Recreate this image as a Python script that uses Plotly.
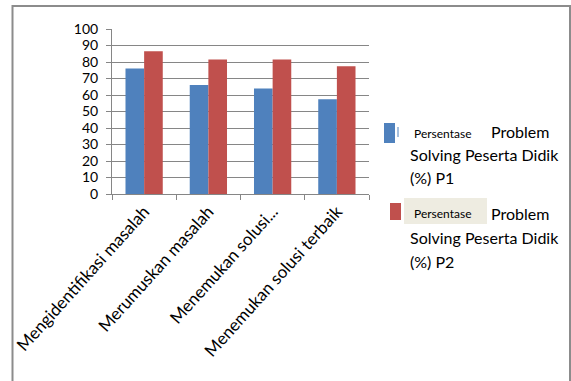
import plotly.graph_objects as go

# Indikator pemecahan masalah dan persentase per pertemuan
categories = [
    "Mengidentifikasi masalah",
    "Merumuskan masalah",
    "Menemukan solusi...",
    "Menemukan solusi terbaik",
]
p1_values = [76, 66, 64, 57.5]
p2_values = [86.5, 81.5, 81.5, 77.5]
y_ticks = list(range(0, 101, 10))

BLUE = "#4f81bd"
RED = "#c0504d"
FONT = "Lato"

W, H = 571, 381
L, R, T, B = 112, 369, 29, 194  # plot area in pixels


def px(x):
    return (x - L) / (R - L)


def py(y):
    return (B - y) / (B - T)


fig = go.Figure()
fig.add_trace(go.Bar(x=categories, y=p1_values, marker=dict(color=BLUE, line=dict(width=0)),
                     name="P1", showlegend=False))
fig.add_trace(go.Bar(x=categories, y=p2_values, marker=dict(color=RED, line=dict(width=0)),
                     name="P2", showlegend=False))

fig.update_layout(
    width=W, height=H,
    margin=dict(l=L, r=W - R, t=T, b=H - B),
    plot_bgcolor="white", paper_bgcolor="white",
    barmode="group", bargap=0.42, bargroupgap=0,
    font=dict(family=FONT, color="#000000"),
)
fig.update_yaxes(
    range=[0, 100], tickvals=y_ticks, ticktext=[str(v) for v in y_ticks],
    showgrid=True, gridcolor="#868686", gridwidth=1,
    showline=True, linecolor="#868686", linewidth=1,
    ticks="outside", ticklen=5, tickcolor="#868686",
    tickfont=dict(size=14, family=FONT, color="#000000"),
    ticklabelstandoff=5, zeroline=False,
)
fig.update_xaxes(
    showline=True, linecolor="#868686", linewidth=1,
    ticks="outside", ticklen=5, tickcolor="#868686", tickson="boundaries",
    tickangle=-48, tickfont=dict(size=17, family=FONT, color="#000000"),
)

shapes = [
    # chart frame
    dict(type="rect", xref="paper", yref="paper", x0=px(12.5), x1=px(570), y0=py(6), y1=py(395),
         line=dict(color="#8c8c8c", width=2), fillcolor="rgba(0,0,0,0)", layer="below"),
    # legend keys
    dict(type="rect", xref="paper", yref="paper", x0=px(384), x1=px(395), y0=py(143), y1=py(123),
         line=dict(width=0), fillcolor=BLUE),
    dict(type="line", xref="paper", yref="paper", x0=px(398), x1=px(398), y0=py(137), y1=py(127),
         line=dict(color=BLUE, width=1)),
    dict(type="rect", xref="paper", yref="paper", x0=px(390), x1=px(401), y0=py(220), y1=py(203),
         line=dict(width=0), fillcolor=RED),
    dict(type="rect", xref="paper", yref="paper", x0=px(404), x1=px(487), y0=py(224), y1=py(198),
         line=dict(width=0), fillcolor="#eeece1"),
]
fig.update_layout(shapes=shapes)


def label(text, x, y, size):
    fig.add_annotation(text=text, xref="paper", yref="paper", x=px(x), y=py(y),
                       xanchor="left", yanchor="middle", showarrow=False,
                       font=dict(family=FONT, size=size, color="#000000"))


label("Persentase", 412, 133, 12)
label("Problem", 489, 131, 16)
label("Solving Peserta Didik", 408, 154, 16)
label("(%) P1", 408, 177, 16)
label("Persentase", 412, 213, 12)
label("Problem", 489, 213, 16)
label("Solving Peserta Didik", 408, 237, 16)
label("(%) P2", 408, 261, 16)

fig.write_html("out.html")
